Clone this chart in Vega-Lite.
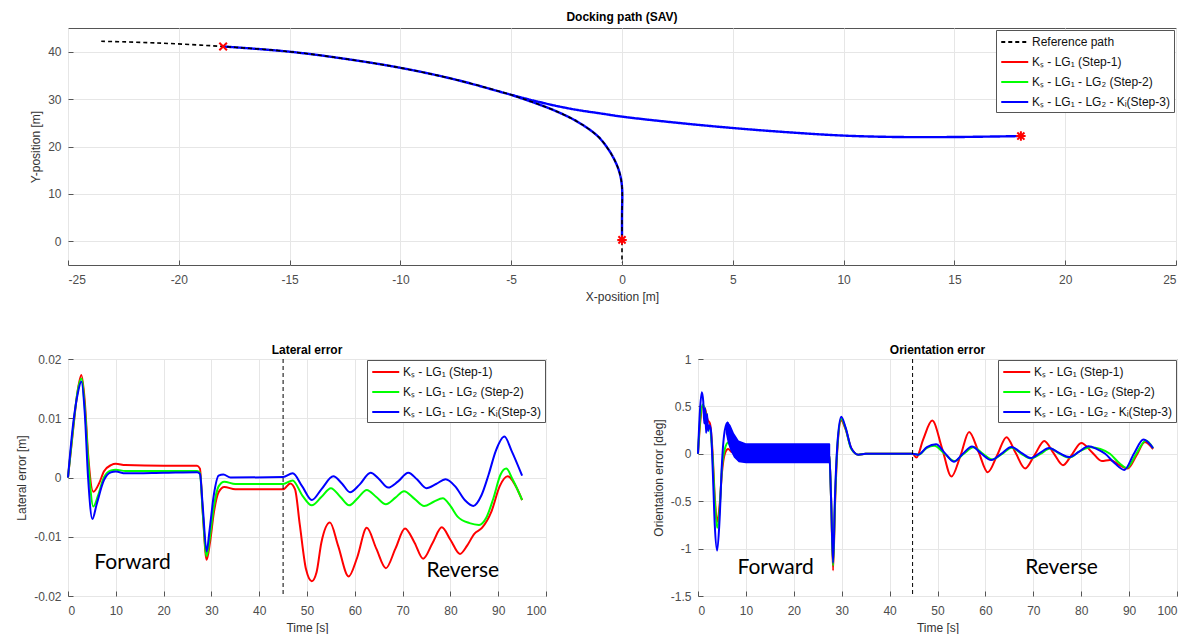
{
  "$schema": "https://vega.github.io/schema/vega-lite/v6.json",
  "background": "white",
  "padding": {"left": 15, "top": 10, "right": 4, "bottom": 0},
  "spacing": 40,
  "resolve": {"scale": {"color": "independent", "strokeDash": "independent"}},
  "datasets": {
    "path": [
      {"s": "REF", "seg": "ref", "i": 1, "x": -23.5, "y": 42.2},
      {"s": "REF", "seg": "ref", "i": 2, "x": -21, "y": 41.85},
      {"s": "REF", "seg": "ref", "i": 3, "x": -18, "y": 41.1},
      {"s": "REF", "seg": "ref", "i": 4, "x": -15, "y": 40.0},
      {"s": "REF", "seg": "ref", "i": 5, "x": -12.5, "y": 38.5},
      {"s": "REF", "seg": "ref", "i": 6, "x": -10, "y": 36.6},
      {"s": "REF", "seg": "ref", "i": 7, "x": -7.5, "y": 34.1},
      {"s": "REF", "seg": "ref", "i": 8, "x": -5, "y": 30.9},
      {"s": "REF", "seg": "ref", "i": 9, "x": -4, "y": 29.3},
      {"s": "REF", "seg": "ref", "i": 10, "x": -3, "y": 27.5},
      {"s": "REF", "seg": "ref", "i": 11, "x": -2, "y": 25.2},
      {"s": "REF", "seg": "ref", "i": 12, "x": -1.1, "y": 22.2},
      {"s": "REF", "seg": "ref", "i": 13, "x": -0.6, "y": 19.3},
      {"s": "REF", "seg": "ref", "i": 14, "x": -0.3, "y": 16.8},
      {"s": "REF", "seg": "ref", "i": 15, "x": -0.1, "y": 14.3},
      {"s": "REF", "seg": "ref", "i": 16, "x": 0, "y": 11.5},
      {"s": "REF", "seg": "ref", "i": 17, "x": 0, "y": 5},
      {"s": "REF", "seg": "ref", "i": 18, "x": 0, "y": -4.5},
      {"s": "S3", "seg": "fwd", "i": 1, "x": -18, "y": 41.1},
      {"s": "S3", "seg": "fwd", "i": 2, "x": -15, "y": 40.0},
      {"s": "S3", "seg": "fwd", "i": 3, "x": -12.5, "y": 38.5},
      {"s": "S3", "seg": "fwd", "i": 4, "x": -10, "y": 36.6},
      {"s": "S3", "seg": "fwd", "i": 5, "x": -7.5, "y": 34.1},
      {"s": "S3", "seg": "fwd", "i": 6, "x": -5, "y": 30.9},
      {"s": "S3", "seg": "fwd", "i": 7, "x": -4, "y": 29.7},
      {"s": "S3", "seg": "fwd", "i": 8, "x": -3, "y": 28.6},
      {"s": "S3", "seg": "fwd", "i": 9, "x": -2, "y": 27.7},
      {"s": "S3", "seg": "fwd", "i": 10, "x": -1, "y": 27.0},
      {"s": "S3", "seg": "fwd", "i": 11, "x": 0, "y": 26.3},
      {"s": "S3", "seg": "fwd", "i": 12, "x": 2.5, "y": 25.0},
      {"s": "S3", "seg": "fwd", "i": 13, "x": 5, "y": 23.9},
      {"s": "S3", "seg": "fwd", "i": 14, "x": 7.5, "y": 23.0},
      {"s": "S3", "seg": "fwd", "i": 15, "x": 10, "y": 22.3},
      {"s": "S3", "seg": "fwd", "i": 16, "x": 12.5, "y": 22.0},
      {"s": "S3", "seg": "fwd", "i": 17, "x": 15, "y": 22.0},
      {"s": "S3", "seg": "fwd", "i": 18, "x": 18, "y": 22.2},
      {"s": "S3", "seg": "rev", "i": 1, "x": -5, "y": 30.9},
      {"s": "S3", "seg": "rev", "i": 2, "x": -4, "y": 29.3},
      {"s": "S3", "seg": "rev", "i": 3, "x": -3, "y": 27.5},
      {"s": "S3", "seg": "rev", "i": 4, "x": -2, "y": 25.2},
      {"s": "S3", "seg": "rev", "i": 5, "x": -1.1, "y": 22.2},
      {"s": "S3", "seg": "rev", "i": 6, "x": -0.6, "y": 19.3},
      {"s": "S3", "seg": "rev", "i": 7, "x": -0.3, "y": 16.8},
      {"s": "S3", "seg": "rev", "i": 8, "x": -0.1, "y": 14.3},
      {"s": "S3", "seg": "rev", "i": 9, "x": 0, "y": 11.5},
      {"s": "S3", "seg": "rev", "i": 10, "x": 0, "y": 5},
      {"s": "S3", "seg": "rev", "i": 11, "x": 0, "y": 0.3}
    ],
    "markers": [
      {"x": -18, "y": 41.1, "m": "x"},
      {"x": 18, "y": 22.2, "m": "star"},
      {"x": 0, "y": 0.3, "m": "star"}
    ],
    "lat": [
      {"s": "S1", "t": 0, "e": 0}, {"s": "S1", "t": 1, "e": 0.0075}, {"s": "S1", "t": 2, "e": 0.0145}, {"s": "S1", "t": 2.8, "e": 0.0173},
      {"s": "S1", "t": 3.5, "e": 0.013}, {"s": "S1", "t": 4.2, "e": 0.004}, {"s": "S1", "t": 5.3, "e": -0.0024}, {"s": "S1", "t": 6.5, "e": -0.001},
      {"s": "S1", "t": 7.5, "e": 0.001}, {"s": "S1", "t": 9, "e": 0.0021}, {"s": "S1", "t": 10, "e": 0.0023}, {"s": "S1", "t": 12, "e": 0.0021},
      {"s": "S1", "t": 20, "e": 0.002}, {"s": "S1", "t": 27, "e": 0.002}, {"s": "S1", "t": 27.6, "e": 0.0015}, {"s": "S1", "t": 28.2, "e": -0.006},
      {"s": "S1", "t": 29, "e": -0.0139}, {"s": "S1", "t": 29.7, "e": -0.011}, {"s": "S1", "t": 30.5, "e": -0.006}, {"s": "S1", "t": 31.5, "e": -0.0025},
      {"s": "S1", "t": 32.7, "e": -0.0016}, {"s": "S1", "t": 35, "e": -0.002}, {"s": "S1", "t": 45, "e": -0.002}, {"s": "S1", "t": 46.5, "e": -0.001},
      {"s": "S1", "t": 47.5, "e": -0.002}, {"s": "S1", "t": 48.5, "e": -0.008}, {"s": "S1", "t": 49.8, "e": -0.0155}, {"s": "S1", "t": 51, "e": -0.0175},
      {"s": "S1", "t": 52, "e": -0.016}, {"s": "S1", "t": 53, "e": -0.011}, {"s": "S1", "t": 54.8, "e": -0.0076}, {"s": "S1", "t": 56.5, "e": -0.0115},
      {"s": "S1", "t": 58.7, "e": -0.0167}, {"s": "S1", "t": 60.5, "e": -0.0135}, {"s": "S1", "t": 62.5, "e": -0.0085}, {"s": "S1", "t": 64.5, "e": -0.012},
      {"s": "S1", "t": 66.5, "e": -0.0153}, {"s": "S1", "t": 68.5, "e": -0.012}, {"s": "S1", "t": 70.5, "e": -0.0086}, {"s": "S1", "t": 72.5, "e": -0.011},
      {"s": "S1", "t": 74.3, "e": -0.0137}, {"s": "S1", "t": 76.3, "e": -0.011}, {"s": "S1", "t": 78.2, "e": -0.0084}, {"s": "S1", "t": 80, "e": -0.0105},
      {"s": "S1", "t": 82, "e": -0.0129}, {"s": "S1", "t": 83.5, "e": -0.0115}, {"s": "S1", "t": 85, "e": -0.0095}, {"s": "S1", "t": 86.6, "e": -0.0085},
      {"s": "S1", "t": 88.6, "e": -0.0057}, {"s": "S1", "t": 90.3, "e": -0.0015}, {"s": "S1", "t": 92, "e": 0.0002}, {"s": "S1", "t": 93.5, "e": -0.0012},
      {"s": "S1", "t": 95, "e": -0.0038},
      {"s": "S2", "t": 0, "e": 0}, {"s": "S2", "t": 1, "e": 0.0078}, {"s": "S2", "t": 2, "e": 0.0145}, {"s": "S2", "t": 2.8, "e": 0.0167},
      {"s": "S2", "t": 3.5, "e": 0.012}, {"s": "S2", "t": 4.3, "e": 0.002}, {"s": "S2", "t": 5.3, "e": -0.0049}, {"s": "S2", "t": 6.3, "e": -0.003},
      {"s": "S2", "t": 7.5, "e": 0}, {"s": "S2", "t": 9, "e": 0.0012}, {"s": "S2", "t": 10, "e": 0.0013}, {"s": "S2", "t": 12, "e": 0.0011},
      {"s": "S2", "t": 20, "e": 0.0011}, {"s": "S2", "t": 27, "e": 0.0011}, {"s": "S2", "t": 27.6, "e": 0.0008}, {"s": "S2", "t": 28.2, "e": -0.006},
      {"s": "S2", "t": 29, "e": -0.0133}, {"s": "S2", "t": 29.7, "e": -0.01}, {"s": "S2", "t": 30.5, "e": -0.005}, {"s": "S2", "t": 31.5, "e": -0.0015},
      {"s": "S2", "t": 32.7, "e": -0.0007}, {"s": "S2", "t": 35, "e": -0.0011}, {"s": "S2", "t": 45, "e": -0.0011}, {"s": "S2", "t": 47, "e": -0.0005},
      {"s": "S2", "t": 49, "e": -0.003}, {"s": "S2", "t": 51, "e": -0.0047}, {"s": "S2", "t": 53, "e": -0.0033}, {"s": "S2", "t": 55, "e": -0.0018},
      {"s": "S2", "t": 57, "e": -0.0033}, {"s": "S2", "t": 58.8, "e": -0.0047}, {"s": "S2", "t": 60.7, "e": -0.0034}, {"s": "S2", "t": 62.5, "e": -0.0021},
      {"s": "S2", "t": 64.5, "e": -0.0033}, {"s": "S2", "t": 66.5, "e": -0.0045}, {"s": "S2", "t": 68.5, "e": -0.0034}, {"s": "S2", "t": 70.3, "e": -0.0023},
      {"s": "S2", "t": 72.5, "e": -0.0036}, {"s": "S2", "t": 74.5, "e": -0.0048}, {"s": "S2", "t": 76.5, "e": -0.0041}, {"s": "S2", "t": 78.4, "e": -0.0035},
      {"s": "S2", "t": 80, "e": -0.0048}, {"s": "S2", "t": 81.5, "e": -0.0066}, {"s": "S2", "t": 84, "e": -0.0077}, {"s": "S2", "t": 86, "e": -0.008},
      {"s": "S2", "t": 87.5, "e": -0.0068}, {"s": "S2", "t": 89, "e": -0.0035}, {"s": "S2", "t": 90.5, "e": 0.0005}, {"s": "S2", "t": 91.7, "e": 0.0015},
      {"s": "S2", "t": 93, "e": -0.0003}, {"s": "S2", "t": 95, "e": -0.0038},
      {"s": "S3", "t": 0, "e": 0}, {"s": "S3", "t": 1, "e": 0.0085}, {"s": "S3", "t": 2, "e": 0.014}, {"s": "S3", "t": 2.8, "e": 0.0162},
      {"s": "S3", "t": 3.5, "e": 0.011}, {"s": "S3", "t": 4.2, "e": 0.0}, {"s": "S3", "t": 5.1, "e": -0.007}, {"s": "S3", "t": 6, "e": -0.0045},
      {"s": "S3", "t": 7.5, "e": -0.0005}, {"s": "S3", "t": 9, "e": 0.0009}, {"s": "S3", "t": 10, "e": 0.001}, {"s": "S3", "t": 12, "e": 0.0007},
      {"s": "S3", "t": 20, "e": 0.0008}, {"s": "S3", "t": 27, "e": 0.0009}, {"s": "S3", "t": 27.6, "e": 0.0006}, {"s": "S3", "t": 28.2, "e": -0.005},
      {"s": "S3", "t": 29, "e": -0.0125}, {"s": "S3", "t": 29.6, "e": -0.009}, {"s": "S3", "t": 30.5, "e": -0.003}, {"s": "S3", "t": 31.5, "e": 0.0003},
      {"s": "S3", "t": 32.5, "e": 0.0005}, {"s": "S3", "t": 34, "e": 0}, {"s": "S3", "t": 45, "e": 0.0001}, {"s": "S3", "t": 47, "e": 0.0007},
      {"s": "S3", "t": 49, "e": -0.0015}, {"s": "S3", "t": 51, "e": -0.0038}, {"s": "S3", "t": 53, "e": -0.002}, {"s": "S3", "t": 55.5, "e": 0.0002},
      {"s": "S3", "t": 57.3, "e": -0.001}, {"s": "S3", "t": 59, "e": -0.0025}, {"s": "S3", "t": 61, "e": -0.0012}, {"s": "S3", "t": 63.3, "e": 0.0008},
      {"s": "S3", "t": 65, "e": -0.0002}, {"s": "S3", "t": 67, "e": -0.0017}, {"s": "S3", "t": 69, "e": -0.0007}, {"s": "S3", "t": 71.2, "e": 0.0008},
      {"s": "S3", "t": 73, "e": -0.0003}, {"s": "S3", "t": 75, "e": -0.0018}, {"s": "S3", "t": 77, "e": -0.0011}, {"s": "S3", "t": 79, "e": -0.0003},
      {"s": "S3", "t": 81, "e": -0.0015}, {"s": "S3", "t": 83, "e": -0.0038}, {"s": "S3", "t": 84.8, "e": -0.0048}, {"s": "S3", "t": 86.5, "e": -0.003},
      {"s": "S3", "t": 88, "e": 0.0005}, {"s": "S3", "t": 89.5, "e": 0.0045}, {"s": "S3", "t": 91.3, "e": 0.0069}, {"s": "S3", "t": 92.8, "e": 0.0045},
      {"s": "S3", "t": 95, "e": 0.0003}
    ],
    "ori": [
      {"s": "S1", "t": 0, "e": 0}, {"s": "S1", "t": 0.5, "e": 0.35}, {"s": "S1", "t": 1, "e": 0.5}, {"s": "S1", "t": 1.5, "e": 0.47},
      {"s": "S1", "t": 2, "e": 0.36}, {"s": "S1", "t": 2.5, "e": 0.32}, {"s": "S1", "t": 3, "e": 0.05}, {"s": "S1", "t": 3.5, "e": -0.45},
      {"s": "S1", "t": 4, "e": -0.72}, {"s": "S1", "t": 4.5, "e": -0.55}, {"s": "S1", "t": 5, "e": -0.2}, {"s": "S1", "t": 5.6, "e": 0},
      {"s": "S1", "t": 6.3, "e": 0.05}, {"s": "S1", "t": 7, "e": 0.02}, {"s": "S1", "t": 8, "e": 0}, {"s": "S1", "t": 27.4, "e": 0},
      {"s": "S1", "t": 27.8, "e": -0.5}, {"s": "S1", "t": 28.2, "e": -1.23}, {"s": "S1", "t": 28.6, "e": -0.55}, {"s": "S1", "t": 29.1, "e": 0.05},
      {"s": "S1", "t": 29.9, "e": 0.35}, {"s": "S1", "t": 30.8, "e": 0.26}, {"s": "S1", "t": 32, "e": 0.06}, {"s": "S1", "t": 33.5, "e": -0.01},
      {"s": "S1", "t": 35, "e": 0}, {"s": "S1", "t": 44.8, "e": 0}, {"s": "S1", "t": 45.6, "e": -0.04}, {"s": "S1", "t": 47, "e": 0.15},
      {"s": "S1", "t": 48.9, "e": 0.35}, {"s": "S1", "t": 51, "e": 0.05}, {"s": "S1", "t": 52.9, "e": -0.24}, {"s": "S1", "t": 54.8, "e": -0.02},
      {"s": "S1", "t": 56.6, "e": 0.23}, {"s": "S1", "t": 58.5, "e": 0.03}, {"s": "S1", "t": 60.5, "e": -0.195}, {"s": "S1", "t": 62.5, "e": -0.01},
      {"s": "S1", "t": 64.4, "e": 0.175}, {"s": "S1", "t": 66.3, "e": 0.01}, {"s": "S1", "t": 68.3, "e": -0.155}, {"s": "S1", "t": 70.3, "e": -0.01},
      {"s": "S1", "t": 72.3, "e": 0.136}, {"s": "S1", "t": 74.2, "e": 0.01}, {"s": "S1", "t": 76.2, "e": -0.12}, {"s": "S1", "t": 78.1, "e": -0.005},
      {"s": "S1", "t": 80, "e": 0.115}, {"s": "S1", "t": 82.2, "e": 0.02}, {"s": "S1", "t": 84.3, "e": -0.077}, {"s": "S1", "t": 86, "e": -0.065},
      {"s": "S1", "t": 88, "e": -0.12}, {"s": "S1", "t": 89.7, "e": -0.155}, {"s": "S1", "t": 91.5, "e": -0.02}, {"s": "S1", "t": 93.3, "e": 0.125},
      {"s": "S1", "t": 95, "e": 0.05},
      {"s": "S2", "t": 0, "e": 0}, {"s": "S2", "t": 0.5, "e": 0.4}, {"s": "S2", "t": 1, "e": 0.52}, {"s": "S2", "t": 1.5, "e": 0.45},
      {"s": "S2", "t": 2, "e": 0.3}, {"s": "S2", "t": 2.5, "e": 0.27}, {"s": "S2", "t": 3, "e": 0}, {"s": "S2", "t": 3.5, "e": -0.5},
      {"s": "S2", "t": 4, "e": -0.78}, {"s": "S2", "t": 4.5, "e": -0.6}, {"s": "S2", "t": 5, "e": -0.15}, {"s": "S2", "t": 5.6, "e": 0.05},
      {"s": "S2", "t": 6.3, "e": 0.12}, {"s": "S2", "t": 7, "e": 0.05}, {"s": "S2", "t": 8, "e": 0}, {"s": "S2", "t": 27.4, "e": 0},
      {"s": "S2", "t": 27.8, "e": -0.5}, {"s": "S2", "t": 28.2, "e": -1.18}, {"s": "S2", "t": 28.6, "e": -0.5}, {"s": "S2", "t": 29.1, "e": 0.08},
      {"s": "S2", "t": 29.9, "e": 0.37}, {"s": "S2", "t": 30.8, "e": 0.27}, {"s": "S2", "t": 32, "e": 0.05}, {"s": "S2", "t": 33.5, "e": -0.01},
      {"s": "S2", "t": 35, "e": 0}, {"s": "S2", "t": 44.8, "e": 0}, {"s": "S2", "t": 46, "e": -0.01}, {"s": "S2", "t": 47.7, "e": 0.06},
      {"s": "S2", "t": 49.3, "e": 0.085}, {"s": "S2", "t": 51.5, "e": 0}, {"s": "S2", "t": 53.5, "e": -0.077}, {"s": "S2", "t": 55.5, "e": 0},
      {"s": "S2", "t": 57.5, "e": 0.07}, {"s": "S2", "t": 59.5, "e": 0}, {"s": "S2", "t": 61.5, "e": -0.06}, {"s": "S2", "t": 63.5, "e": 0},
      {"s": "S2", "t": 65.5, "e": 0.065}, {"s": "S2", "t": 67.5, "e": 0}, {"s": "S2", "t": 69.5, "e": -0.05}, {"s": "S2", "t": 71.5, "e": 0},
      {"s": "S2", "t": 73.5, "e": 0.055}, {"s": "S2", "t": 75.5, "e": 0}, {"s": "S2", "t": 77.5, "e": -0.04}, {"s": "S2", "t": 79.8, "e": 0.03},
      {"s": "S2", "t": 82, "e": 0.07}, {"s": "S2", "t": 84, "e": 0.05}, {"s": "S2", "t": 86, "e": 0}, {"s": "S2", "t": 88, "e": -0.1},
      {"s": "S2", "t": 89.5, "e": -0.15}, {"s": "S2", "t": 91.5, "e": 0}, {"s": "S2", "t": 93.5, "e": 0.14}, {"s": "S2", "t": 95, "e": 0.06},
      {"s": "S3", "t": 0, "e": 0}, {"s": "S3", "t": 0.4, "e": 0.45}, {"s": "S3", "t": 0.8, "e": 0.65}, {"s": "S3", "t": 1.1, "e": 0.55},
      {"s": "S3", "t": 1.3, "e": 0.32}, {"s": "S3", "t": 1.5, "e": 0.48}, {"s": "S3", "t": 1.7, "e": 0.22}, {"s": "S3", "t": 1.9, "e": 0.42},
      {"s": "S3", "t": 2.1, "e": 0.24}, {"s": "S3", "t": 2.4, "e": 0.3}, {"s": "S3", "t": 2.7, "e": 0.25}, {"s": "S3", "t": 3.1, "e": -0.2},
      {"s": "S3", "t": 3.5, "e": -0.75}, {"s": "S3", "t": 4, "e": -1.02}, {"s": "S3", "t": 4.5, "e": -0.7}, {"s": "S3", "t": 5, "e": -0.1},
      {"s": "S3", "t": 5.6, "e": 0.25}, {"s": "S3", "t": 6.2, "e": 0.33}, {"s": "S3", "t": 7, "e": 0.1}, {"s": "S3", "t": 8, "e": 0},
      {"s": "S3", "t": 27.4, "e": 0}, {"s": "S3", "t": 27.8, "e": -0.5}, {"s": "S3", "t": 28.2, "e": -1.15}, {"s": "S3", "t": 28.6, "e": -0.45},
      {"s": "S3", "t": 29.1, "e": 0.1}, {"s": "S3", "t": 29.9, "e": 0.39}, {"s": "S3", "t": 30.8, "e": 0.28}, {"s": "S3", "t": 32, "e": 0.06},
      {"s": "S3", "t": 33.5, "e": -0.01}, {"s": "S3", "t": 35, "e": 0}, {"s": "S3", "t": 44.8, "e": 0}, {"s": "S3", "t": 46, "e": -0.01},
      {"s": "S3", "t": 47.8, "e": 0.07}, {"s": "S3", "t": 49.7, "e": 0.1}, {"s": "S3", "t": 51.5, "e": 0.01}, {"s": "S3", "t": 53.4, "e": -0.084},
      {"s": "S3", "t": 55.3, "e": 0}, {"s": "S3", "t": 57.2, "e": 0.077}, {"s": "S3", "t": 59.2, "e": 0}, {"s": "S3", "t": 61.2, "e": -0.066},
      {"s": "S3", "t": 63.3, "e": 0}, {"s": "S3", "t": 65.4, "e": 0.073}, {"s": "S3", "t": 67.5, "e": 0.01}, {"s": "S3", "t": 69.5, "e": -0.045},
      {"s": "S3", "t": 71.4, "e": 0.01}, {"s": "S3", "t": 73.3, "e": 0.06}, {"s": "S3", "t": 75.4, "e": 0.01}, {"s": "S3", "t": 77.5, "e": -0.035},
      {"s": "S3", "t": 79.5, "e": 0.02}, {"s": "S3", "t": 81.5, "e": 0.08}, {"s": "S3", "t": 83.3, "e": 0.05}, {"s": "S3", "t": 85, "e": 0},
      {"s": "S3", "t": 87, "e": -0.1}, {"s": "S3", "t": 89, "e": -0.17}, {"s": "S3", "t": 91, "e": 0}, {"s": "S3", "t": 93, "e": 0.15},
      {"s": "S3", "t": 95, "e": 0.06}
    ],
    "band": [
      {"t": 5.8, "lo": 0.22, "hi": 0.3},
      {"t": 6.2, "lo": 0.12, "hi": 0.34},
      {"t": 6.8, "lo": 0.03, "hi": 0.3},
      {"t": 7.5, "lo": -0.04, "hi": 0.22},
      {"t": 8.5, "lo": -0.09, "hi": 0.14},
      {"t": 10, "lo": -0.1, "hi": 0.11},
      {"t": 27.5, "lo": -0.1, "hi": 0.11},
      {"t": 27.6, "lo": -0.1, "hi": 0.1}
    ],
    "latNotes": [
      {"label": "Forward", "t": 13.5, "e": -0.0145},
      {"label": "Reverse", "t": 82.6, "e": -0.0158}
    ],
    "oriNotes": [
      {"label": "Forward", "t": 16.2, "e": -1.2},
      {"label": "Reverse", "t": 75.9, "e": -1.2}
    ],
    "latSplit": [{"t": 45}],
    "oriSplit": [{"t": 44.8}]
  },
  "vconcat": [
    {
      "width": 1108,
      "height": 237,
      "title": "Docking path (SAV)",
      "layer": [
        {
          "data": {"name": "path"},
          "transform": [{"filter": "datum.s !== 'REF'"}],
          "mark": {"type": "line", "interpolate": "catmull-rom", "strokeWidth": 2.4},
          "encoding": {
            "x": {"field": "x", "type": "quantitative", "scale": {"domain": [-25, 25], "nice": false}, "axis": {"title": "X-position [m]", "values": [-25, -20, -15, -10, -5, 0, 5, 10, 15, 20, 25]}},
            "y": {"field": "y", "type": "quantitative", "scale": {"domain": [-5, 45], "nice": false}, "axis": {"title": "Y-position [m]", "values": [0, 10, 20, 30, 40]}},
            "color": {"field": "s", "type": "nominal", "scale": {"domain": ["REF", "S1", "S2", "S3"], "range": ["#000000", "#ff0000", "#00ff00", "#0000ff"]}, "legend": {"title": null, "labelExpr": "datum.label == 'REF' ? 'Reference path' : datum.label == 'S1' ? 'Kₛ - LG₁ (Step-1)' : datum.label == 'S2' ? 'Kₛ - LG₁ - LG₂ (Step-2)' : 'Kₛ - LG₁ - LG₂ - Kᵢ(Step-3)'"}},
            "strokeDash": {"field": "s", "type": "nominal", "scale": {"domain": ["REF", "S1", "S2", "S3"], "range": [[4, 3], [1, 0], [1, 0], [1, 0]]}, "legend": {"title": null, "labelExpr": "datum.label == 'REF' ? 'Reference path' : datum.label == 'S1' ? 'Kₛ - LG₁ (Step-1)' : datum.label == 'S2' ? 'Kₛ - LG₁ - LG₂ (Step-2)' : 'Kₛ - LG₁ - LG₂ - Kᵢ(Step-3)'"}},
            "detail": {"field": "seg"},
            "order": {"field": "i", "type": "quantitative"}
          }
        },
        {
          "data": {"name": "path"},
          "transform": [{"filter": "datum.s === 'REF'"}],
          "mark": {"type": "line", "interpolate": "catmull-rom", "strokeWidth": 1.6},
          "encoding": {
            "x": {"field": "x", "type": "quantitative", "axis": {"title": "X-position [m]"}},
            "y": {"field": "y", "type": "quantitative", "axis": {"title": "Y-position [m]"}},
            "color": {"field": "s", "type": "nominal", "legend": {"title": null, "labelExpr": "datum.label == 'REF' ? 'Reference path' : datum.label == 'S1' ? 'Kₛ - LG₁ (Step-1)' : datum.label == 'S2' ? 'Kₛ - LG₁ - LG₂ (Step-2)' : 'Kₛ - LG₁ - LG₂ - Kᵢ(Step-3)'"}},
            "strokeDash": {"field": "s", "type": "nominal", "legend": {"title": null, "labelExpr": "datum.label == 'REF' ? 'Reference path' : datum.label == 'S1' ? 'Kₛ - LG₁ (Step-1)' : datum.label == 'S2' ? 'Kₛ - LG₁ - LG₂ (Step-2)' : 'Kₛ - LG₁ - LG₂ - Kᵢ(Step-3)'"}},
            "detail": {"field": "seg"},
            "order": {"field": "i", "type": "quantitative"}
          }
        },
        {
          "data": {"name": "markers"},
          "mark": {"type": "point", "filled": false, "strokeWidth": 2, "size": 90, "color": "#ff0000", "opacity": 1},
          "encoding": {
            "x": {"field": "x", "type": "quantitative", "axis": {"title": "X-position [m]"}},
            "y": {"field": "y", "type": "quantitative", "axis": {"title": "Y-position [m]"}},
            "shape": {"field": "m", "type": "nominal", "scale": {"domain": ["x", "star"], "range": ["M-0.8,-0.8L0.8,0.8M-0.8,0.8L0.8,-0.8", "M-1,0L1,0M0,-1L0,1M-0.75,-0.75L0.75,0.75M-0.75,0.75L0.75,-0.75"]}, "legend": null}
          }
        }
      ]
    },
    {
      "spacing": 104,
      "resolve": {"scale": {"color": "independent"}},
      "hconcat": [
        {
          "width": 478,
          "height": 237,
          "title": {"text": "Lateral error", "offset": -4},
          "layer": [
            {
              "data": {"name": "lat"},
              "mark": {"type": "line", "interpolate": "monotone", "strokeWidth": 2},
              "encoding": {
                "x": {"field": "t", "type": "quantitative", "scale": {"domain": [0, 100], "nice": false}, "axis": {"title": "Time [s]", "values": [0, 10, 20, 30, 40, 50, 60, 70, 80, 90, 100]}},
                "y": {"field": "e", "type": "quantitative", "scale": {"domain": [-0.02, 0.02], "nice": false}, "axis": {"title": "Lateral error [m]", "values": [-0.02, -0.015, -0.01, -0.005, 0, 0.005, 0.01, 0.015, 0.02]}},
                "color": {"field": "s", "type": "nominal", "scale": {"domain": ["S1", "S2", "S3"], "range": ["#ff0000", "#00ff00", "#0000ff"]}, "legend": {"title": null, "offset": 1, "labelExpr": "datum.label == 'S1' ? 'Kₛ - LG₁ (Step-1)' : datum.label == 'S2' ? 'Kₛ - LG₁ - LG₂ (Step-2)' : 'Kₛ - LG₁ - LG₂ - Kᵢ(Step-3)'"}}
              }
            },
            {
              "data": {"name": "latSplit"},
              "mark": {"type": "rule", "color": "#000000", "strokeDash": [4, 3], "strokeWidth": 1},
              "encoding": {
                "x": {"field": "t", "type": "quantitative", "axis": {"title": "Time [s]"}}
              }
            },
            {
              "data": {"name": "latNotes"},
              "mark": {"type": "text", "font": "Lato", "fontSize": 21, "color": "#000000"},
              "encoding": {
                "x": {"field": "t", "type": "quantitative", "axis": {"title": "Time [s]"}},
                "y": {"field": "e", "type": "quantitative", "axis": {"title": "Lateral error [m]"}},
                "text": {"field": "label"}
              }
            }
          ]
        },
        {
          "width": 479,
          "height": 237,
          "title": {"text": "Orientation error", "offset": -4},
          "layer": [
            {
              "data": {"name": "ori"},
              "mark": {"type": "line", "interpolate": "monotone", "strokeWidth": 2},
              "encoding": {
                "x": {"field": "t", "type": "quantitative", "scale": {"domain": [0, 100], "nice": false}, "axis": {"title": "Time [s]", "values": [0, 10, 20, 30, 40, 50, 60, 70, 80, 90, 100]}},
                "y": {"field": "e", "type": "quantitative", "scale": {"domain": [-1.5, 1], "nice": false}, "axis": {"title": "Orientation error [deg]", "values": [-1.5, -1, -0.5, 0, 0.5, 1]}},
                "color": {"field": "s", "type": "nominal", "scale": {"domain": ["S1", "S2", "S3"], "range": ["#ff0000", "#00ff00", "#0000ff"]}, "legend": {"title": null, "offset": 1, "labelExpr": "datum.label == 'S1' ? 'Kₛ - LG₁ (Step-1)' : datum.label == 'S2' ? 'Kₛ - LG₁ - LG₂ (Step-2)' : 'Kₛ - LG₁ - LG₂ - Kᵢ(Step-3)'"}}
              }
            },
            {
              "data": {"name": "band"},
              "mark": {"type": "area", "color": "#0000ff", "opacity": 1},
              "encoding": {
                "x": {"field": "t", "type": "quantitative", "axis": {"title": "Time [s]"}},
                "y": {"field": "lo", "type": "quantitative", "axis": {"title": "Orientation error [deg]"}},
                "y2": {"field": "hi"}
              }
            },
            {
              "data": {"name": "oriSplit"},
              "mark": {"type": "rule", "color": "#000000", "strokeDash": [4, 3], "strokeWidth": 1},
              "encoding": {
                "x": {"field": "t", "type": "quantitative", "axis": {"title": "Time [s]"}}
              }
            },
            {
              "data": {"name": "oriNotes"},
              "mark": {"type": "text", "font": "Lato", "fontSize": 21, "color": "#000000"},
              "encoding": {
                "x": {"field": "t", "type": "quantitative", "axis": {"title": "Time [s]"}},
                "y": {"field": "e", "type": "quantitative", "axis": {"title": "Orientation error [deg]"}},
                "text": {"field": "label"}
              }
            }
          ]
        }
      ]
    }
  ],
  "config": {
    "font": "Liberation Sans",
    "view": {"stroke": "#555555", "strokeWidth": 1},
    "axis": {
      "grid": true,
      "gridColor": "#e6e6e6",
      "gridWidth": 1,
      "domain": false,
      "ticks": true,
      "tickSize": -5,
      "tickColor": "#555555",
      "labelFont": "Liberation Sans",
      "labelFontSize": 12,
      "labelColor": "#4d4d4d",
      "titleFont": "Liberation Sans",
      "titleFontSize": 12,
      "titleFontWeight": "normal",
      "titleColor": "#333333",
      "labelExpr": "replace(format(datum.value, '~g'), '\u2212', '-')"
    },
    "axisX": {"labelPadding": 14, "titlePadding": 6},
    "axisY": {"labelPadding": 12, "titlePadding": 5},
    "title": {"font": "Liberation Sans", "fontSize": 12, "fontWeight": "bold", "color": "#000000", "offset": 4, "frame": "group"},
    "legend": {
      "orient": "top-right",
      "offset": 2,
      "fillColor": "white",
      "strokeColor": "#555555",
      "padding": 4,
      "cornerRadius": 0,
      "labelFont": "Liberation Sans",
      "labelFontSize": 12,
      "labelColor": "#111111",
      "labelOffset": 16,
      "symbolType": "M-1,0L3,0",
      "symbolSize": 182,
      "symbolStrokeWidth": 2,
      "rowPadding": 6,
      "labelLimit": 300
    }
  }
}
